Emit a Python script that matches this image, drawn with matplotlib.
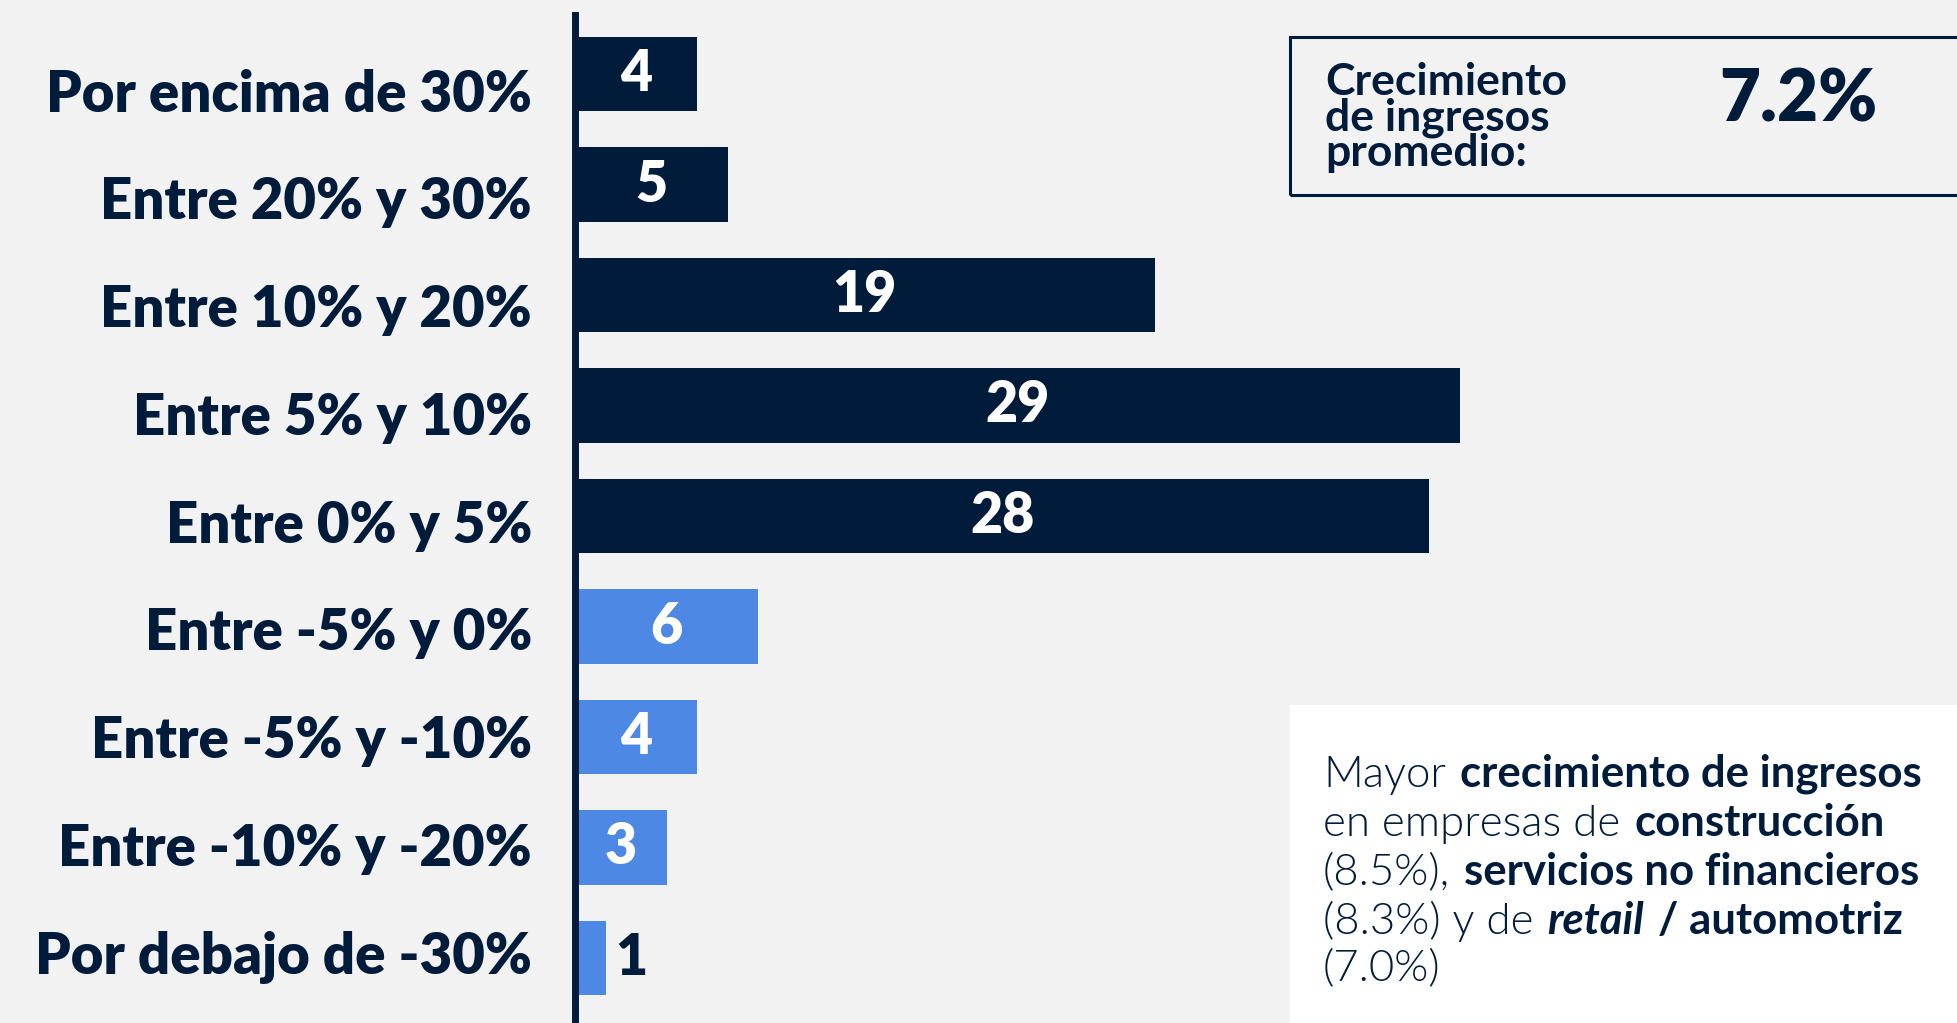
import matplotlib.pyplot as plt
from matplotlib.patches import Rectangle
from matplotlib.offsetbox import TextArea, HPacker, VPacker, AnnotationBbox

# data
categories = ["Por encima de 30%", "Entre 20% y 30%", "Entre 10% y 20%",
              "Entre 5% y 10%", "Entre 0% y 5%", "Entre -5% y 0%",
              "Entre -5% y -10%", "Entre -10% y -20%", "Por debajo de -30%"]
values = [4, 5, 19, 29, 28, 6, 4, 3, 1]
n_growth = 5  # first five ranges are growth (dark), the rest decline (blue)

avg_label = "Crecimiento\nde ingresos\npromedio:"
avg_value = "7.2%"

# note text: (piece, style) per line; L = light, B = bold, BI = bold italic
note_lines = [
    [("Mayor", "L"), ("crecimiento de ingresos", "B")],
    [("en empresas de", "L"), ("construcción", "B")],
    [("(8.5%),", "L"), ("servicios no financieros", "B")],
    [("(8.3%) y de", "L"), ("retail", "BI"), ("/ automotriz", "B")],
    [("(7.0%)", "L")],
]

NAVY = "#001C3A"
BLUE = "#4D88E5"
BG = "#F2F2F2"
W, H = 1957, 1023

plt.rcParams['font.family'] = ['Lato', 'DejaVu Sans']


def fx(px):
    return px / W


def fy(py):
    return 1 - py / H


fig = plt.figure(figsize=(W / 100, H / 100), dpi=100, facecolor=BG)

# axes: spine at x=575px, top at 15px
ax = fig.add_axes([fx(575), 0, 1 - fx(575), fy(15)])
ax.set_facecolor(BG)

pos = list(range(len(values)))
bar_colors = [NAVY if i < n_growth else BLUE for i in pos]
ax.barh(pos, values, height=0.67, color=bar_colors, zorder=1)

ax.set_xlim(0, (W - 575) / 30.5)
ax.set_ylim(8 + 65 / 110.5, -59 / 110.5)

for s in ["top", "right", "bottom"]:
    ax.spines[s].set_visible(False)
ax.spines["left"].set_color(NAVY)
ax.spines["left"].set_linewidth(5)
ax.spines["left"].set_zorder(3)

# category labels sit on a slightly tighter pitch than the bars
ax.set_xticks([])
ax.set_yticks([0.145 + 0.9755 * i for i in pos])
ax.set_yticklabels(categories, fontsize=40.5, fontweight="heavy", color=NAVY)
ax.tick_params(axis="y", length=0, pad=31)

for i, v in zip(pos, values):
    if v >= 2:
        ax.text(v / 2, i, str(v), ha="center", va="center", color="white",
                fontsize=40, fontweight="heavy")
    else:
        ax.annotate(str(v), xy=(v, i), xytext=(7, 0), textcoords="offset points",
                    ha="left", va="center", color=NAVY, fontsize=40, fontweight="heavy")

# top-right box with average
fig.patches.append(Rectangle((fx(1290), fy(195)), fx(700), 158 / H,
                             transform=fig.transFigure, facecolor="none",
                             edgecolor=NAVY, linewidth=2.2))
fig.text(fx(1325), fy(62), avg_label, ha="left", va="top", fontsize=32,
         fontweight="bold", color=NAVY, linespacing=0.85)
fig.text(fx(1798), fy(122), avg_value, ha="center", va="baseline", fontsize=51,
         fontweight="heavy", color=NAVY)

# bottom-right note box
fig.patches.append(Rectangle((fx(1290), 0), fx(700), (H - 705) / H,
                             transform=fig.transFigure, facecolor="white",
                             edgecolor="none"))

styles = {
    "L": dict(fontweight=300, fontstyle="normal"),
    "B": dict(fontweight="bold", fontstyle="normal"),
    "BI": dict(fontweight="bold", fontstyle="italic"),
}
rows = []
for line in note_lines:
    parts = [TextArea(t, textprops=dict(fontsize=31.5, color=NAVY, **styles[st]))
             for t, st in line]
    rows.append(HPacker(children=parts, align="baseline", pad=0, sep=10))
note = VPacker(children=rows, align="left", pad=0, sep=5.6)
fig.add_artist(AnnotationBbox(note, (fx(1323), fy(754)), xycoords="figure fraction",
                              box_alignment=(0, 1), frameon=False, pad=0))

fig.savefig("out.png", dpi=100, facecolor=BG)
